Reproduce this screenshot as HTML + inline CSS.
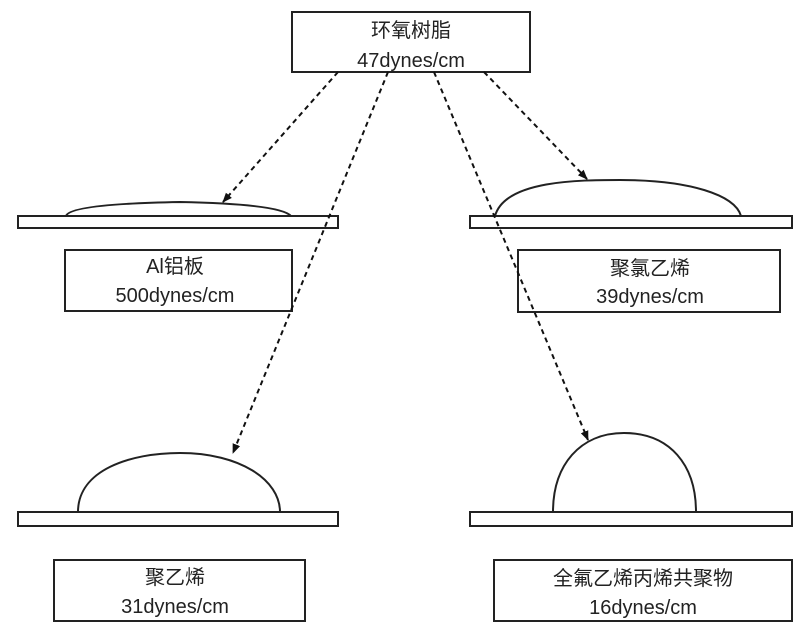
<!DOCTYPE html>
<html><head><meta charset="utf-8"><style>body{margin:0;background:#fff}svg{display:block}</style></head>
<body>
<svg width="800" height="630" viewBox="0 0 800 630" xmlns="http://www.w3.org/2000/svg">
<defs><marker id="a" markerWidth="10" markerHeight="10" refX="9" refY="5" orient="auto" markerUnits="userSpaceOnUse"><path d="M0,1 L10,5 L0,9 z" fill="#111"/></marker></defs>
<g fill="none" stroke="#222" stroke-width="2">
<rect x="292" y="12" width="238" height="60" fill="#fff"/>
<rect x="65" y="250" width="227" height="61"/>
<rect x="518" y="250" width="262" height="62"/>
<rect x="54" y="560" width="251" height="61"/>
<rect x="494" y="560" width="298" height="61"/>
<rect x="18" y="216" width="320" height="12"/>
<rect x="470" y="216" width="322" height="12"/>
<rect x="18" y="512" width="320" height="14"/>
<rect x="470" y="512" width="322" height="14"/>
<path d="M66,216 Q70,204 180,202 Q280,204 291,216"/>
<path d="M495,216 C505,180 580,180 620,180 C690,180 735,195 741,216"/>
<path d="M78,512 C78,470 130,453 180,453 C240,453 280,480 280,512"/>
<path d="M553,512 C553,465 580,433 624,433 C670,433 696,465 696,512"/>
</g>
<g stroke="#111" stroke-width="2" stroke-dasharray="5,4" fill="none" marker-end="url(#a)">
<line x1="338" y1="72" x2="223" y2="202"/>
<line x1="388" y1="72" x2="233" y2="453"/>
<line x1="434" y1="72" x2="588" y2="440"/>
<line x1="484" y1="72" x2="587" y2="179"/>
</g>
<g font-family="Liberation Sans, Noto Sans CJK SC, sans-serif" font-size="20" fill="#222" text-anchor="middle">
<text x="411" y="37">环氧树脂</text>
<text x="411" y="67">47dynes/cm</text>
<text x="175" y="273">Al铝板</text>
<text x="175" y="302">500dynes/cm</text>
<text x="650" y="275">聚氯乙烯</text>
<text x="650" y="303">39dynes/cm</text>
<text x="175" y="584">聚乙烯</text>
<text x="175" y="613">31dynes/cm</text>
<text x="643" y="585">全氟乙烯丙烯共聚物</text>
<text x="643" y="614">16dynes/cm</text>
</g>
</svg>
</body></html>
